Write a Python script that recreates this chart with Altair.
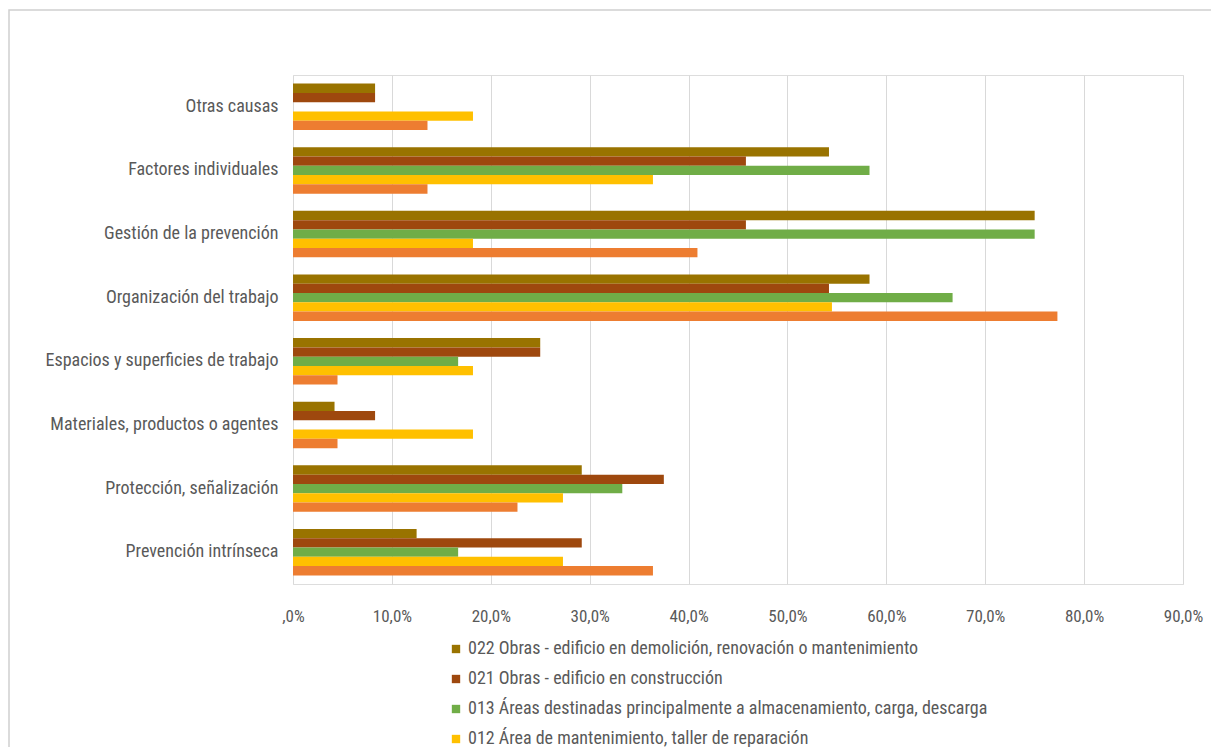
import altair as alt
import pandas as pd

categories = [
    "Otras causas",
    "Factores individuales",
    "Gestión de la prevención",
    "Organización del trabajo",
    "Espacios y superficies de trabajo",
    "Materiales, productos o agentes",
    "Protección, señalización",
    "Prevención intrínseca",
]
series = [
    "022 Obras - edificio en demolición, renovación o mantenimiento",
    "021 Obras - edificio en construcción",
    "013 Áreas destinadas principalmente a almacenamiento, carga, descarga",
    "012 Área de mantenimiento, taller de reparación",
    "011 Área de producción, fábrica, taller",
]
colors = ["#997300", "#9e480e", "#70ad47", "#ffc000", "#ed7d31"]

s022 = [8.3, 54.2, 75.0, 58.3, 25.0, 4.2, 29.2, 12.5]
s021 = [8.3, 45.8, 45.8, 54.2, 25.0, 8.3, 37.5, 29.2]
s013 = [0.0, 58.3, 75.0, 66.7, 16.7, 0.0, 33.3, 16.7]
s012 = [18.2, 36.4, 18.2, 54.5, 18.2, 18.2, 27.3, 27.3]
s011 = [13.6, 13.6, 40.9, 77.3, 4.5, 4.5, 22.7, 36.4]
tick_values = [0, 0.1, 0.2, 0.3, 0.4, 0.5, 0.6, 0.7, 0.8, 0.9]
# only the first four legend entries are visible in the (cropped) reference
legend_visible = series[:4]

rows = []
for name, vals in zip(series, [s022, s021, s013, s012, s011]):
    for c, v in zip(categories, vals):
        rows.append({"cat": c, "serie": name, "valor": v / 100})
df = pd.DataFrame(rows)

FONT = "Liberation Sans Narrow, Roboto Condensed, Arial Narrow, Liberation Sans, sans-serif"
TXT = "#595959"

bars = alt.Chart(df).mark_bar().encode(
    y=alt.Y("cat:N", sort=categories, title=None,
            scale=alt.Scale(paddingInner=0.27, paddingOuter=0.135),
            axis=alt.Axis(ticks=False, domain=False, labelFontSize=18, labelColor=TXT,
                          labelFont=FONT, labelPadding=15, labelLimit=400, grid=False)),
    yOffset=alt.YOffset("serie:N", sort=series, scale=alt.Scale(paddingInner=0, paddingOuter=0)),
    x=alt.X("valor:Q", title=None, scale=alt.Scale(domain=[0, 0.9], nice=False),
            axis=alt.Axis(values=tick_values, grid=True, gridColor="#d9d9d9", gridWidth=1,
                          ticks=False, domain=False, labelFontSize=17, labelColor=TXT,
                          labelFont=FONT, labelPadding=24, labelFlush=False,
                          labelExpr="datum.value == 0 ? ',0%' : replace(format(datum.value*100, '.1f'), '.', ',') + '%'")),
    color=alt.Color("serie:N", sort=series,
                    scale=alt.Scale(domain=series, range=colors),
                    legend=alt.Legend(orient="none", legendX=154, legendY=565, title=None,
                                      values=legend_visible,
                                      symbolType="square", symbolSize=70, symbolStrokeWidth=0,
                                      labelFontSize=18, labelFont=FONT, labelColor=TXT,
                                      labelOffset=3, rowPadding=12, labelLimit=800, symbolOffset=0)),
)

frame = alt.Chart(pd.DataFrame({"k": [0]})).mark_rect(
    fill="transparent", stroke="#d0d0d0", strokeWidth=1.5
).encode(
    x=alt.value(-284), x2=alt.value(960), y=alt.value(-65), y2=alt.value(800)
)

chart = alt.layer(frame, bars).properties(
    width=890, height=509,
    autosize=alt.AutoSizeParams(type="none"),
    padding={"left": 285, "top": 67, "right": 28, "bottom": 163},
).configure_view(stroke=None).configure(background="white")

chart.save("out.html", embed_options={"renderer": "svg", "actions": False})
